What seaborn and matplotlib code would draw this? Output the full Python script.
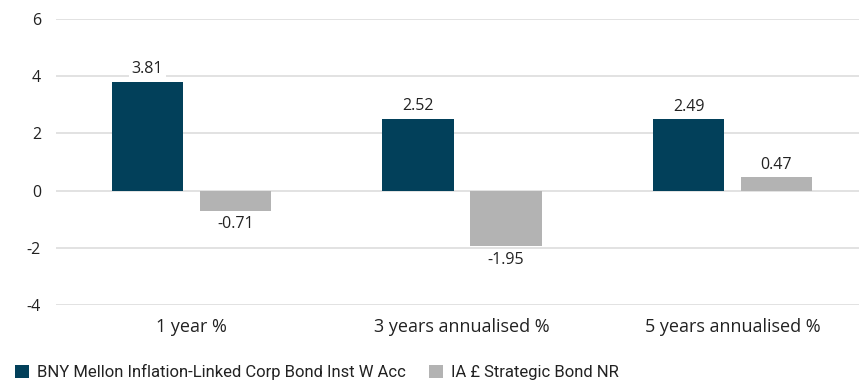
import matplotlib
matplotlib.use("Agg")
import matplotlib.pyplot as plt
import seaborn as sns
import pandas as pd
from matplotlib.patches import Patch

categories = ["1 year %", "3 years annualised %", "5 years annualised %"]
series_names = ["BNY Mellon Inflation-Linked Corp Bond Inst W Acc", "IA £ Strategic Bond NR"]
fund_values = [3.81, 2.52, 2.49]
bench_values = [-0.71, -1.95, 0.47]
y_ticks = [-4, -2, 0, 2, 4, 6]

colors = ["#02405a", "#b3b3b3"]

df = pd.DataFrame({
    "category": categories * 2,
    "series": [series_names[0]] * 3 + [series_names[1]] * 3,
    "value": fund_values + bench_values,
})

sns.set_theme(style="white")
plt.rcParams["font.family"] = ["Roboto", "DejaVu Sans"]

fig = plt.figure(figsize=(8.59, 3.82), dpi=100)
W, H = 859, 382
ax = fig.add_axes([56.25 / W, 1 - 305 / H, 811.5 / W, (305 - 19) / H])

sns.barplot(data=df, x="category", y="value", hue="series", order=categories,
            hue_order=series_names, palette=colors, width=0.65, gap=0.19,
            saturation=1, linewidth=0, ax=ax, legend=False)

ax.set_ylim(-4, 6)
ax.set_yticks(y_ticks)
ax.set_yticklabels([str(t) for t in y_ticks], fontsize=11.5, family=["Open Sans"])
ax.set_xlim(-0.5, 2.5)
ax.yaxis.grid(True, color="#dddddd", linewidth=1.2)
ax.set_axisbelow(True)
for s in ax.spines.values():
    s.set_visible(False)
ax.tick_params(axis="y", length=0, pad=11, colors="#222222")
ax.tick_params(axis="x", length=0, pad=9, labelsize=13, colors="#222222")
for lab in ax.get_xticklabels():
    lab.set_family(["Open Sans", "DejaVu Sans"])
ax.set_xlabel("")
ax.set_ylabel("")

for cont in ax.containers:
    for bar in cont:
        v = bar.get_height()
        x = bar.get_x() + bar.get_width() / 2
        if v >= 0:
            ax.annotate(f"{v:.2f}", (x, v), xytext=(0, 3), textcoords="offset points",
                        ha="center", va="bottom", fontsize=11.5, color="#222222",
                        family=["Open Sans"],
                        bbox=dict(boxstyle="square,pad=0.15", fc="white", ec="none"))
        else:
            ax.annotate(f"{v:.2f}", (x, v), xytext=(0, -4), textcoords="offset points",
                        ha="center", va="top", fontsize=11.5, color="#222222",
                        family=["Open Sans"],
                        bbox=dict(boxstyle="square,pad=0.15", fc="white", ec="none"))

handles = [Patch(facecolor=c, edgecolor="none") for c in colors]
fig.legend(handles, series_names, loc="lower left", bbox_to_anchor=(0.0, -0.035),
           ncol=2, frameon=False, fontsize=12, handlelength=0.85, handleheight=0.85,
           handletextpad=0.45, columnspacing=1.4, labelcolor="#222222")

fig.savefig("out.png", dpi=100)
